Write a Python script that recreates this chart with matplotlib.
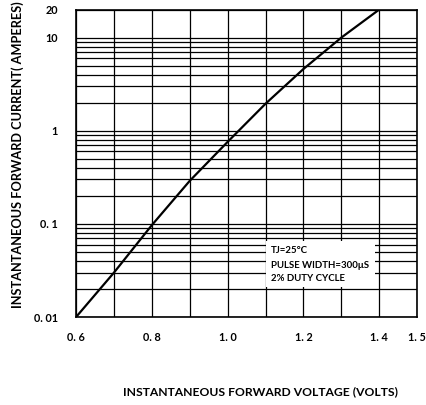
import numpy as np
import matplotlib.pyplot as plt
from matplotlib.patches import Rectangle
from matplotlib.ticker import FixedLocator, LogLocator, NullFormatter

plt.rcParams['font.family'] = ['Lato', 'DejaVu Sans']

# forward characteristic
volts = [0.6, 0.7, 0.8, 0.9, 1.0, 1.1, 1.2, 1.3, 1.4]
amps = [0.01, 0.030, 0.097, 0.29, 0.76, 1.95, 4.6, 10.0, 20.0]

xticks = [0.6, 0.8, 1.0, 1.2, 1.4, 1.5]
xticklabels = ['0. 6', '0. 8', '1. 0', '1. 2', '1. 4', '1. 5']
yticks = [0.01, 0.1, 1, 10, 20]
yticklabels = ['0. 01', '0. 1', '1', '10', '20']
notes = ['TJ=25°C', 'PULSE WIDTH=300μS', '2% DUTY CYCLE']

fig = plt.figure(figsize=(4.27, 4.05), dpi=100)
ax = fig.add_axes([0.178, 0.217, 0.799, 0.7595])

ax.set_yscale('log')
ax.set_xlim(0.6, 1.5)
ax.set_ylim(0.01, 20)

ax.set_xticks(xticks)
ax.set_xticklabels(xticklabels, fontsize=7.8, fontweight='bold')
ax.xaxis.set_minor_locator(FixedLocator(np.arange(0.6, 1.51, 0.1)))
ax.set_yticks(yticks)
ax.set_yticklabels(yticklabels, fontsize=7.8, fontweight='bold')
ax.yaxis.set_minor_locator(LogLocator(base=10, subs=np.arange(2, 10)))
ax.yaxis.set_minor_formatter(NullFormatter())
ax.tick_params(which='both', length=0)
ax.tick_params(axis='x', pad=11)
ax.tick_params(axis='y', pad=13)

ax.set_axisbelow(True)
ax.grid(True, which='both', color='black', lw=0.9)
for s in ax.spines.values():
    s.set_linewidth(1.2)

ax.plot(volts, amps, color='black', lw=1.6, zorder=3)

ax.add_patch(Rectangle((1.1, 0.021), 0.288, 0.044, facecolor='white',
                       edgecolor='none', zorder=2))
for i, t in enumerate(notes):
    ax.text(1.115, [0.052, 0.036, 0.026][i], t, fontsize=6.9, fontweight='bold',
            va='center', ha='left', zorder=4)

fig.text(0.609, 0.032, 'INSTANTANEOUS FORWARD VOLTAGE (VOLTS)', fontsize=8.7,
         fontweight='bold', ha='center', va='center')
fig.text(0.042, 0.617, 'INSTANTANEOUS FORWARD CURRENT( AMPERES)', fontsize=9.2,
         fontweight='bold', ha='center', va='center', rotation=90)

fig.savefig('out.png', dpi=100)
